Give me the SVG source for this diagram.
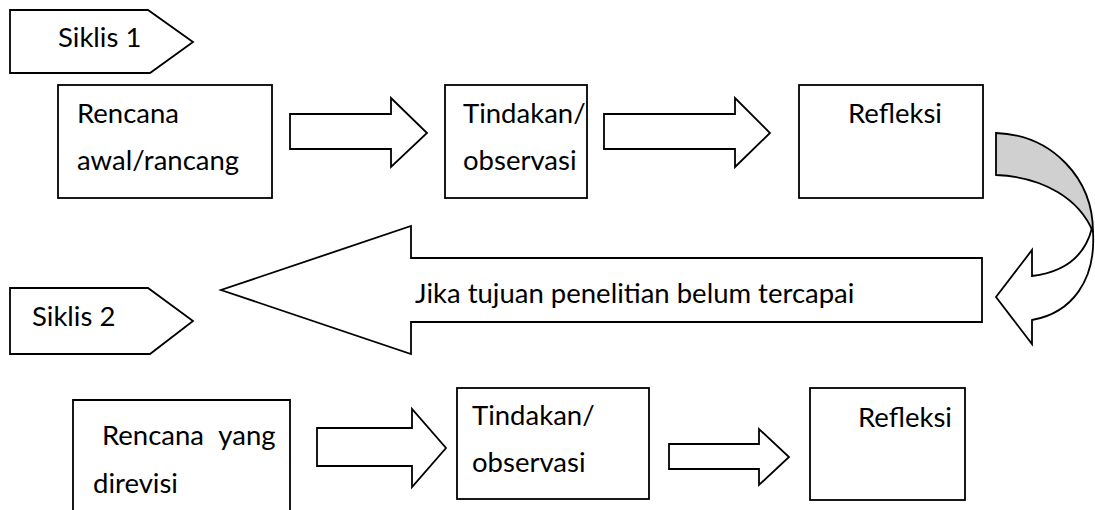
<svg xmlns="http://www.w3.org/2000/svg" width="1095" height="510" viewBox="0 0 1095 510">
<style>
.s{fill:#fff;stroke:#000;stroke-width:1.8;stroke-linejoin:miter}
.g{fill:#d0d0d0;stroke:#000;stroke-width:1.8}
text{font-family:Lato,"Open Sans","Liberation Sans",sans-serif;font-size:27.5px;fill:#000}
</style>
<rect width="1095" height="510" fill="#fff"/>
<g id="siklis1"><path class="s" d="M10,10 H148 L193,42 L150,73 H10 Z"/><text x="58" y="47">Siklis 1</text></g>
<g id="rencana1"><rect class="s" x="58" y="85" width="214" height="113"/><text x="77" y="123">Rencana</text><text x="77" y="170">awal/rancang</text></g>
<g id="tindakan1"><rect class="s" x="445" y="85" width="142" height="113"/><text x="463" y="123">Tindakan/</text><text x="463" y="170">observasi</text></g>
<g id="refleksi1"><rect class="s" x="799" y="85" width="184" height="113"/><text x="848" y="123">Refleksi</text></g>
<g id="siklis2"><path class="s" d="M10,288 H148 L193,321 L150,354 H10 Z"/><text x="32" y="326">Siklis 2</text></g>
<g id="rencana2"><path class="s" d="M73,512 V400 H290 V512"/><text x="102" y="445" word-spacing="8">Rencana yang</text><text x="93" y="493">direvisi</text></g>
<g id="tindakan2"><rect class="s" x="457" y="388" width="192" height="111"/><text x="472" y="425">Tindakan/</text><text x="472" y="472">observasi</text></g>
<g id="refleksi2"><rect class="s" x="810" y="388" width="155" height="112"/><text x="858" y="427">Refleksi</text></g>
<g id="connectors">
<path class="s" d="M290,114 H391 V98 L427,133 L391,167 V149 H290 Z"/>
<path class="s" d="M604,114 H735 V98 L770,133 L735,167 V149 H604 Z"/>
<path class="s" d="M982,258 H411 V226 L221,290 L411,354 V322 H982 Z"/>
<path class="g" d="M996,133 C1052,135 1093,178 1093,232 C1080,200 1045,177 996,175 Z"/>
<path class="s" d="M1092,228 C1085,256 1065,272 1032,276 L1032,250 L996,297 L1032,344 L1032,320 C1072,313 1096,280 1093,232 Z"/>
<path class="s" d="M317,428 H412 V409 L446,448 L412,487 V466 H317 Z"/>
<path class="s" d="M669,444 H759 V429 L789,457 L759,485 V469 H669 Z"/>
<text x="415" y="303">Jika tujuan penelitian belum tercapai</text>
</g>
</svg>
